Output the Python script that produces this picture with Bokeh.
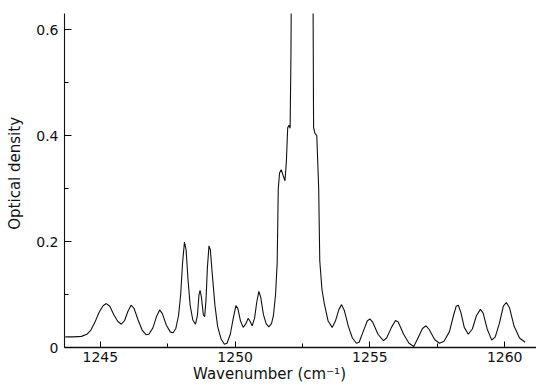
from bokeh.plotting import figure
from bokeh.models import Range1d, FixedTicker
from bokeh.embed import file_html
from bokeh.resources import INLINE

wavenumber = [
    1243.70, 1244.00, 1244.30, 1244.50, 1244.65, 1244.80, 1244.95, 1245.10, 1245.22, 1245.35,
    1245.50, 1245.65, 1245.78, 1245.90, 1246.02, 1246.14, 1246.25, 1246.40, 1246.55, 1246.70,
    1246.80, 1246.95, 1247.08, 1247.20, 1247.30, 1247.45, 1247.60, 1247.70, 1247.80, 1247.90,
    1247.98, 1248.05, 1248.12, 1248.18, 1248.25, 1248.33, 1248.43, 1248.53, 1248.60, 1248.66,
    1248.70, 1248.75, 1248.82, 1248.87, 1248.92, 1248.97, 1249.03, 1249.08, 1249.15, 1249.25,
    1249.35, 1249.48, 1249.60, 1249.70, 1249.82, 1249.93, 1250.03, 1250.10, 1250.20, 1250.30,
    1250.40, 1250.48, 1250.55, 1250.63, 1250.72, 1250.80, 1250.88, 1250.95, 1251.05, 1251.15,
    1251.25, 1251.35, 1251.42, 1251.50, 1251.56, 1251.60, 1251.65, 1251.71, 1251.78, 1251.85,
    1251.90, 1251.95, 1252.00, 1252.04, 1252.07, 1252.10, 1252.50, 1252.88, 1252.91, 1252.96,
    1253.03, 1253.10, 1253.14, 1253.22, 1253.30, 1253.45, 1253.60, 1253.72, 1253.85, 1253.95,
    1254.05, 1254.20, 1254.35, 1254.50, 1254.60, 1254.75, 1254.90, 1255.00, 1255.10, 1255.30,
    1255.50, 1255.62, 1255.80, 1255.95, 1256.05, 1256.25, 1256.45, 1256.63, 1256.80, 1256.95,
    1257.08, 1257.20, 1257.40, 1257.58, 1257.75, 1257.95, 1258.10, 1258.20, 1258.28, 1258.38,
    1258.50, 1258.65, 1258.80, 1258.95, 1259.10, 1259.20, 1259.35, 1259.52, 1259.65, 1259.80,
    1259.95, 1260.06, 1260.18, 1260.35, 1260.55, 1260.76,
]
optical_density = [
    0.020, 0.020, 0.021, 0.025, 0.033, 0.048, 0.066, 0.079, 0.083, 0.078,
    0.062, 0.049, 0.044, 0.051, 0.068, 0.080, 0.074, 0.052, 0.033, 0.024,
    0.025, 0.037, 0.058, 0.071, 0.064, 0.042, 0.029, 0.028, 0.036, 0.060,
    0.100, 0.160, 0.199, 0.185, 0.130, 0.080, 0.052, 0.044, 0.060, 0.100,
    0.108, 0.095, 0.062, 0.058, 0.090, 0.150, 0.192, 0.185, 0.140, 0.080,
    0.040, 0.016, 0.006, 0.008, 0.025, 0.055, 0.079, 0.074, 0.050, 0.038,
    0.045, 0.055, 0.050, 0.041, 0.055, 0.085, 0.106, 0.095, 0.062, 0.045,
    0.039, 0.045, 0.060, 0.100, 0.160, 0.300, 0.330, 0.336, 0.325, 0.315,
    0.350, 0.415, 0.420, 0.414, 0.550, 0.800, 1.500, 0.800, 0.416, 0.405,
    0.400, 0.300, 0.164, 0.110, 0.085, 0.050, 0.038, 0.050, 0.072, 0.081,
    0.070, 0.040, 0.018, 0.008, 0.010, 0.030, 0.050, 0.054, 0.048, 0.025,
    0.013, 0.018, 0.038, 0.051, 0.048, 0.025, 0.008, 0.002, 0.020, 0.036,
    0.041, 0.034, 0.015, 0.008, 0.012, 0.030, 0.060, 0.078, 0.080, 0.065,
    0.038, 0.025, 0.035, 0.060, 0.072, 0.065, 0.035, 0.014, 0.020, 0.045,
    0.078, 0.085, 0.075, 0.040, 0.018, 0.010,
]

x_major = [1245, 1250, 1255, 1260]
x_minor = [1247.5, 1252.5, 1257.5]
y_major = [0, 0.2, 0.4, 0.6]
y_minor = [0.1, 0.3, 0.5]
y_labels = {0: "0", 0.2: "0.2", 0.4: "0.4", 0.6: "0.6"}

FONT = "DejaVu Sans"
NB = "\u00a0"

p = figure(width=536, height=390, output_backend="svg", toolbar_location=None,
           x_range=Range1d(1243.67, 1261.18), y_range=Range1d(0, 0.631),
           min_border_left=64, min_border_right=0, min_border_top=13, min_border_bottom=43)
p.outline_line_color = None
p.background_fill_color = "white"
p.border_fill_color = "white"
p.xgrid.visible = False
p.ygrid.visible = False

p.line(wavenumber, optical_density, line_color="#111111", line_width=1.1)

xa = p.xaxis[0]
xa.ticker = FixedTicker(ticks=x_major, minor_ticks=x_minor)
xa.major_tick_in = 6
xa.major_tick_out = 0
xa.minor_tick_in = 4
xa.minor_tick_out = 0
xa.major_label_standoff = 4
xa.major_label_text_font = FONT
xa.major_label_text_font_size = "14px"
xa.major_label_text_color = "#111111"
xa.axis_line_color = "#111111"
xa.axis_line_width = 1.3
xa.axis_label = "Wavenumber (cm\u207b\u00b9)" + NB * 13
xa.axis_label_standoff = 0
xa.axis_label_text_font = FONT
xa.axis_label_text_font_size = "15px"
xa.axis_label_text_font_style = "normal"
xa.axis_label_text_color = "#111111"

ya = p.yaxis[0]
ya.ticker = FixedTicker(ticks=y_major, minor_ticks=y_minor)
ya.major_label_overrides = y_labels
ya.major_tick_in = 7
ya.major_tick_out = 0
ya.minor_tick_in = 4
ya.minor_tick_out = 0
ya.major_label_standoff = 6
ya.major_label_text_font = FONT
ya.major_label_text_font_size = "14px"
ya.major_label_text_color = "#111111"
ya.axis_line_color = "#111111"
ya.axis_line_width = 1.1
ya.axis_label = NB * 3 + "Optical density"
ya.axis_label_standoff = 9
ya.axis_label_text_font = FONT
ya.axis_label_text_font_size = "15px"
ya.axis_label_text_font_style = "normal"
ya.axis_label_text_color = "#111111"

open("out.html", "w").write(file_html(p, INLINE))
